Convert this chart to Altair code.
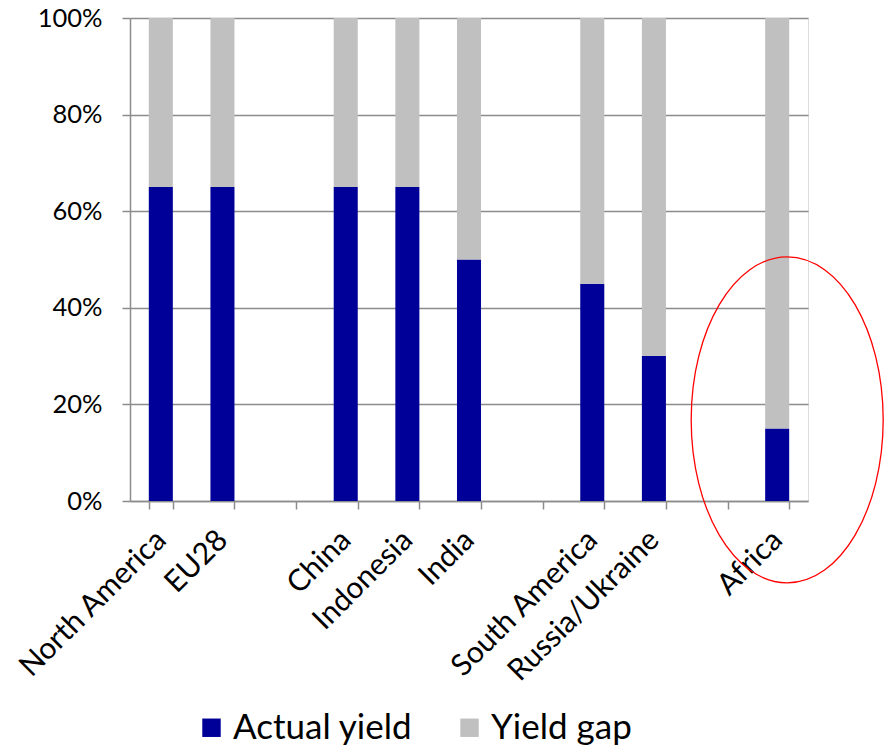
import altair as alt
import pandas as pd

regions = ["North America", "EU28", " ", "China", "Indonesia", "India", "  ",
           "South America", "Russia/Ukraine", "   ", "Africa"]
bar_regions = ["North America", "EU28", "China", "Indonesia", "India",
               "South America", "Russia/Ukraine", "Africa"]
actual_yield = [0.65, 0.65, 0.65, 0.65, 0.50, 0.45, 0.30, 0.15]
series_names = ["Actual yield", "Yield gap"]
highlight_region = ["Africa"]
highlight_center = [0.168]

rows = []
for r, a in zip(bar_regions, actual_yield):
    rows.append({"region": r, "series": series_names[0], "value": a, "ord": 0})
    rows.append({"region": r, "series": series_names[1], "value": round(1 - a, 4), "ord": 1})
df = pd.DataFrame(rows)

ann = pd.DataFrame({"region": highlight_region, "v": highlight_center})

FONT = "Lato"
GRID = "#8c8c8c"

x_enc = alt.X("region:N", sort=regions, scale=alt.Scale(domain=regions, paddingInner=0.61, paddingOuter=0.305),
              axis=alt.Axis(title=None, labelAngle=-45, labelAlign="right", labelBaseline="middle",
                            labelFontSize=30, labelFont=FONT, labelColor="#000000", labelPadding=26,
                            labelLimit=0, labelOverlap=False,
                            tickBand="extent", tickSize=8, tickColor=GRID, domainColor=GRID,
                            domainWidth=1.5, tickWidth=1.5, grid=False))

bars = alt.Chart(df).mark_bar().encode(
    x=x_enc,
    y=alt.Y("value:Q", stack="zero", scale=alt.Scale(domain=[0, 1]),
            axis=alt.Axis(title=None, format=".0%", values=[0, 0.2, 0.4, 0.6, 0.8, 1.0],
                          labelFontSize=25.5, labelFont=FONT, labelColor="#000000", labelPadding=20,
                          labelLimit=0,
                          tickSize=8, tickColor=GRID, domainColor=GRID, domainWidth=1.5, tickWidth=1.5,
                          grid=True, gridColor=GRID, gridWidth=1.5)),
    color=alt.Color("series:N", sort=series_names,
                    scale=alt.Scale(domain=series_names, range=["#000099", "#c0c0c0"]),
                    legend=alt.Legend(title=None, orient="none", direction="horizontal",
                                      legendX=64, legendY=692, symbolType="square", symbolSize=340,
                                      symbolStrokeWidth=0, labelFontSize=35, labelFont=FONT,
                                      labelColor="#000000", columnPadding=39, labelOffset=4,
                                      labelLimit=0, symbolOpacity=1)),
    order=alt.Order("ord:Q"),
)

ellipse = alt.Chart(ann).mark_point(
    shape="M -0.589,0 A 0.589,1 0 1,0 0.589,0 A 0.589,1 0 1,0 -0.589,0 Z",
    size=106276, color="#ff0000", strokeWidth=1.3, filled=False, opacity=1, xOffset=10
).encode(
    x=alt.X("region:N", sort=regions),
    y=alt.Y("v:Q"),
)

chart = alt.layer(bars, ellipse).properties(
    width=678, height=483,
    autosize=alt.AutoSizeParams(type="none"),
    padding={"left": 130, "top": 18, "right": 79, "bottom": 247},
).configure_view(stroke=None).configure(background="white")

chart.save("out.html", embed_options={"renderer": "svg", "actions": False})
